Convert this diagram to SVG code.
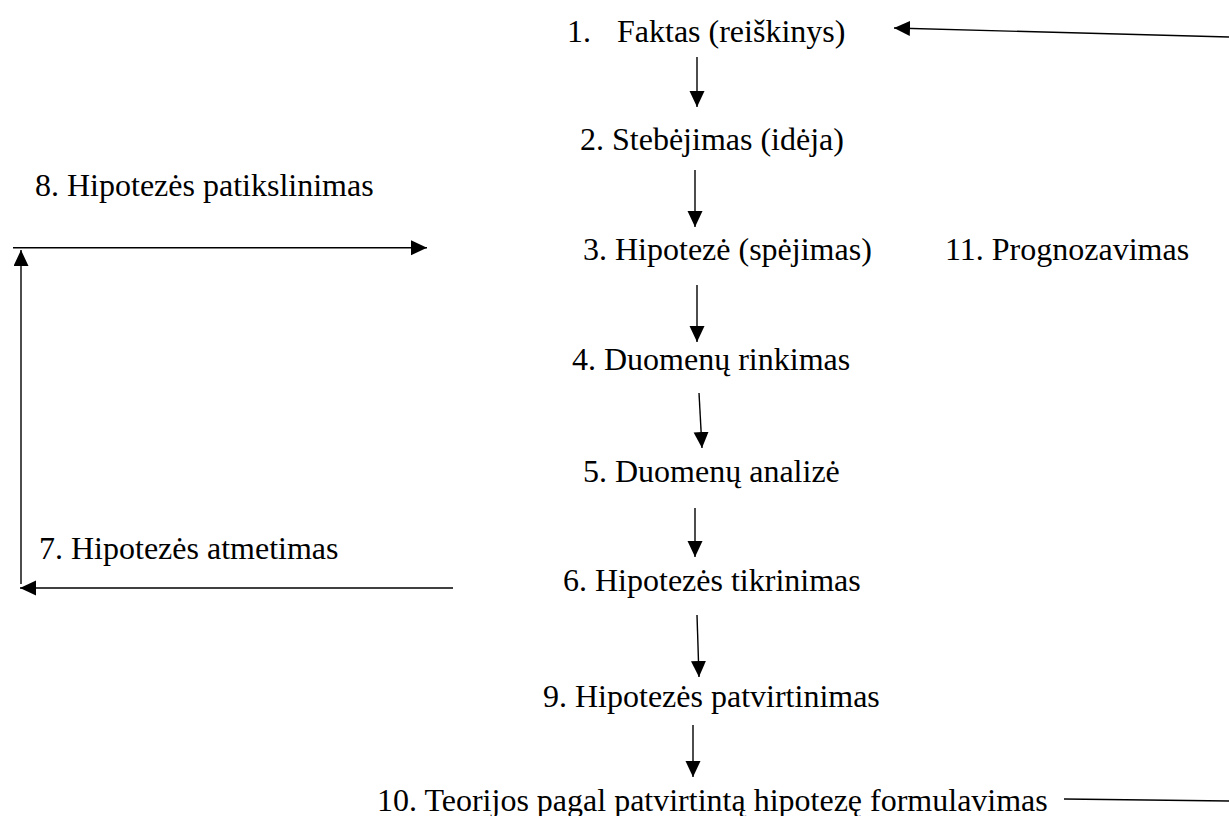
<svg xmlns="http://www.w3.org/2000/svg" width="1229" height="816" viewBox="0 0 1229 816">
<style>
text{font-family:"Liberation Serif","Times New Roman",serif;font-size:32px;fill:#000}
.c{stroke:#000;stroke-width:1.4;fill:none}
.a{marker-end:url(#ah)}
</style>
<defs>
<marker id="ah" markerUnits="userSpaceOnUse" markerWidth="17" markerHeight="16" refX="16" refY="7.5" orient="auto">
<path d="M0,0 L16,7.5 L0,15 z" fill="#000"/>
</marker>
</defs>
<rect width="1229" height="816" fill="#fff"/>
<g id="n1"><text y="42"><tspan x="567">1.</tspan><tspan x="617">Faktas (reiškinys)</tspan></text></g>
<g id="n2"><text x="580" y="150">2. Stebėjimas (idėja)</text></g>
<g id="n8"><text x="35" y="196">8. Hipotezės patikslinimas</text></g>
<g id="n3"><text x="583" y="260">3. Hipotezė (spėjimas)</text></g>
<g id="n11"><text x="945" y="260">11. Prognozavimas</text></g>
<g id="n4"><text x="572" y="370">4. Duomenų rinkimas</text></g>
<g id="n5"><text x="583" y="482">5. Duomenų analizė</text></g>
<g id="n7"><text x="39" y="559">7. Hipotezės atmetimas</text></g>
<g id="n6"><text x="563" y="591">6. Hipotezės tikrinimas</text></g>
<g id="n9"><text x="543" y="707">9. Hipotezės patvirtinimas</text></g>
<g id="n10"><text x="377" y="811">10. Teorijos pagal patvirtintą hipotezę formulavimas</text></g>
<g id="connectors">
<line class="c a" x1="697" y1="57" x2="697" y2="107"/>
<line class="c a" x1="695" y1="170" x2="695" y2="227"/>
<line class="c a" x1="697" y1="285" x2="697" y2="342"/>
<line class="c a" x1="699" y1="393" x2="702" y2="448"/>
<line class="c a" x1="695" y1="508" x2="695" y2="557"/>
<line class="c a" x1="697" y1="615" x2="699" y2="677"/>
<line class="c a" x1="693" y1="725" x2="693" y2="777"/>
<line class="c a" x1="13" y1="247.7" x2="427" y2="247.7"/>
<line class="c a" x1="21" y1="584" x2="21" y2="250"/>
<line class="c a" x1="453" y1="588" x2="20" y2="588"/>
<line class="c" x1="1064" y1="799" x2="1229" y2="801"/>
<line class="c a" x1="1229" y1="37" x2="894" y2="28"/>
</g>
</svg>
